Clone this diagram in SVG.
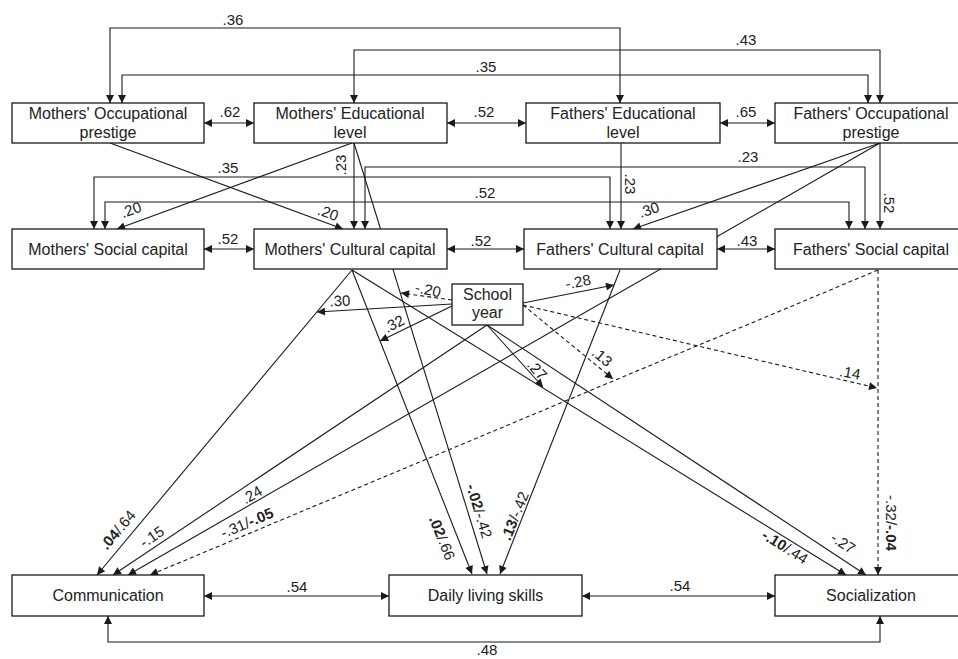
<svg xmlns="http://www.w3.org/2000/svg" width="958" height="659" viewBox="0 0 958 659">
<style>
.c{fill:none;stroke:#1a1a1a;stroke-width:1.1}
.a{marker-end:url(#ah)}
.b{marker-start:url(#ah);marker-end:url(#ah)}
.d{stroke-dasharray:4 3}
.box{fill:#fff;stroke:#1a1a1a;stroke-width:1.3}
.t{font-family:"Liberation Sans",Arial,sans-serif;font-size:16px;fill:#222;text-anchor:middle}
.l{font-family:"Liberation Sans",Arial,sans-serif;font-size:15px;fill:#222;text-anchor:middle}
.bd{font-weight:bold}
</style>
<defs>
<marker id="ah" viewBox="0 0 10 10" refX="10" refY="5" markerWidth="9" markerHeight="8" markerUnits="userSpaceOnUse" orient="auto-start-reverse">
<path d="M0,0 L10,5 L0,10 z" fill="#1a1a1a"/>
</marker>
</defs>
<rect width="958" height="659" fill="#fff"/>
<g id="connectors">
<path class="c b" d="M110,103 V28 H620 V103"/>
<path class="c b" d="M354,103 V50 H880 V103"/>
<path class="c b" d="M122,103 V75 H868 V103"/>
<path class="c b" d="M204,123 H254"/>
<path class="c b" d="M447,123 H526"/>
<path class="c b" d="M720,123 H775"/>
<path class="c b" d="M94,229 V177 H610 V229"/>
<path class="c b" d="M105,229 V202 H849 V229"/>
<path class="c b" d="M365,229 V167 H865 V229"/>
<path class="c a" d="M354,143 V229"/>
<path class="c a" d="M621,143 V229"/>
<path class="c a" d="M880,143 V229"/>
<path class="c a" d="M352,143 L117,229"/>
<path class="c a" d="M110,143 L343,229"/>
<path class="c a" d="M880,143 L633,229"/>
<path class="c b" d="M204,249 H254"/>
<path class="c b" d="M447,249 H524"/>
<path class="c b" d="M717,249 H775"/>
<path class="c a" d="M352,270 L97,575"/>
<path class="c a" d="M352,270 L472,574"/>
<path class="c a" d="M352,270 L846,575"/>
<path class="c a" d="M354,143 L487,574"/>
<path class="c a" d="M620,270 L500,574"/>
<path class="c a" d="M880,143 L128,575"/>
<path class="c a" d="M487,325 L113,575"/>
<path class="c a" d="M487,325 L866,575"/>
<path class="c a d" d="M878,270 L150,575"/>
<path class="c a d" d="M878,270 V575"/>
<path class="c a d" d="M452,300 L401,293"/>
<path class="c a" d="M452,304 L317,312"/>
<path class="c a" d="M452,306 L380,341"/>
<path class="c a" d="M523,303 L614,285"/>
<path class="c a d" d="M523,305 L613,379"/>
<path class="c a d" d="M523,305 L877,388"/>
<path class="c a" d="M487,325 L543,387"/>
<path class="c b" d="M204,596 H389"/>
<path class="c b" d="M582,596 H775"/>
<path class="c b" d="M108,616 V642 H880 V616"/>
</g>
<g id="labels">
<text class="l" x="233" y="25">.36</text>
<text class="l" x="746" y="45">.43</text>
<text class="l" x="486" y="72">.35</text>
<text class="l" x="230" y="117">.62</text>
<text class="l" x="484" y="117">.52</text>
<text class="l" x="746" y="117">.65</text>
<text class="l" transform="translate(341,165) rotate(-90)" y="5">.23</text>
<text class="l" x="228" y="173">.35</text>
<text class="l" x="748" y="162">.23</text>
<text class="l" x="485" y="198">.52</text>
<text class="l" transform="translate(131,210) rotate(-20)" y="5">.20</text>
<text class="l" transform="translate(328,213) rotate(20)" y="5">.20</text>
<text class="l" transform="translate(649,210) rotate(-19)" y="5">.30</text>
<text class="l" transform="translate(630,184) rotate(90)" y="5">.23</text>
<text class="l" transform="translate(889,203) rotate(90)" y="5">.52</text>
<text class="l" x="228" y="244">.52</text>
<text class="l" x="481" y="246">.52</text>
<text class="l" x="747" y="246">.43</text>
<text class="l" transform="translate(428,290) rotate(12)" y="5">-.20</text>
<text class="l" transform="translate(340,301) rotate(-3)" y="5">.30</text>
<text class="l" transform="translate(394,324) rotate(-28)" y="5">.32</text>
<text class="l" transform="translate(578,282) rotate(-11)" y="5">-.28</text>
<text class="l" transform="translate(602,357) rotate(40)" y="5">.13</text>
<text class="l" transform="translate(850,373) rotate(10)" y="5">.14</text>
<text class="l" transform="translate(537,370) rotate(48)" y="5">.27</text>
<text class="l" transform="translate(118,530) rotate(-50)" y="5"><tspan class="bd">.04</tspan>/.64</text>
<text class="l" transform="translate(152,537) rotate(-34)" y="5">-.15</text>
<text class="l" transform="translate(252,495) rotate(-30)" y="5">.24</text>
<text class="l" transform="translate(247,523) rotate(-23)" y="5">-.31/<tspan class="bd">-.05</tspan></text>
<text class="l" transform="translate(442,538) rotate(68)" y="5"><tspan class="bd">.02</tspan>/.66</text>
<text class="l" transform="translate(479,511) rotate(73)" y="5"><tspan class="bd">-.02</tspan>/-.42</text>
<text class="l" transform="translate(515,516) rotate(-68)" y="5"><tspan class="bd">.13</tspan>/-.42</text>
<text class="l" transform="translate(785,547) rotate(32)" y="5"><tspan class="bd">-.10</tspan>/.44</text>
<text class="l" transform="translate(843,543) rotate(33)" y="5">-.27</text>
<text class="l" transform="translate(891,523) rotate(90)" y="5">-.32/<tspan class="bd">-.04</tspan></text>
<text class="l" x="297" y="592">.54</text>
<text class="l" x="680" y="591">.54</text>
<text class="l" x="487" y="655">.48</text>
</g>
<g id="mop"><rect class="box" x="12" y="103" width="192" height="40"/><text class="t" x="108" y="119">Mothers' Occupational</text><text class="t" x="108" y="138">prestige</text></g>
<g id="mel"><rect class="box" x="254" y="103" width="193" height="40"/><text class="t" x="350" y="119">Mothers' Educational</text><text class="t" x="350" y="138">level</text></g>
<g id="fel"><rect class="box" x="526" y="103" width="194" height="40"/><text class="t" x="623" y="119">Fathers' Educational</text><text class="t" x="623" y="138">level</text></g>
<g id="fop"><rect class="box" x="775" y="103" width="193" height="40"/><text class="t" x="871" y="119">Fathers' Occupational</text><text class="t" x="871" y="138">prestige</text></g>
<g id="msc"><rect class="box" x="12" y="229" width="192" height="40"/><text class="t" x="108" y="255">Mothers' Social capital</text></g>
<g id="mcc"><rect class="box" x="254" y="229" width="193" height="40"/><text class="t" x="350" y="255">Mothers' Cultural capital</text></g>
<g id="fcc"><rect class="box" x="524" y="229" width="193" height="40"/><text class="t" x="620" y="255">Fathers' Cultural capital</text></g>
<g id="fsc"><rect class="box" x="775" y="229" width="193" height="40"/><text class="t" x="871" y="255">Fathers' Social capital</text></g>
<g id="school"><rect class="box" x="452" y="284" width="71" height="41"/><text class="t" x="487.5" y="300">School</text><text class="t" x="487.5" y="318">year</text></g>
<g id="comm"><rect class="box" x="12" y="575" width="192" height="41"/><text class="t" x="108" y="601">Communication</text></g>
<g id="dls"><rect class="box" x="389" y="575" width="193" height="41"/><text class="t" x="485.5" y="601">Daily living skills</text></g>
<g id="soc"><rect class="box" x="775" y="575" width="193" height="41"/><text class="t" x="871" y="601">Socialization</text></g>
</svg>
